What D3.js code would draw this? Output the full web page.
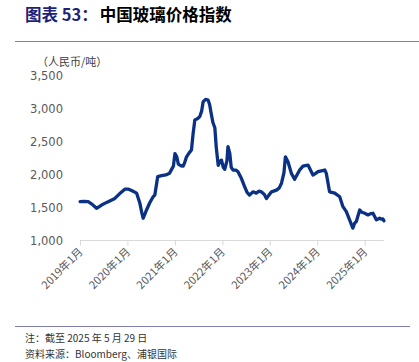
<!DOCTYPE html>
<html><head><meta charset="utf-8">
<script src="https://cdn.jsdelivr.net/npm/d3@7"></script>
<style>
html,body{margin:0;padding:0;background:#fff;}
svg{display:block;}
</style></head>
<body>
<script>
const dates = ["2019-01-02","2019-02-01","2019-03-05","2019-04-05","2019-05-08","2019-06-16","2019-07-10","2019-08-06","2019-09-26","2019-11-01","2019-12-12","2020-01-10","2020-02-02","2020-03-12","2020-04-06","2020-04-20","2020-05-01","2020-05-12","2020-05-27","2020-06-20","2020-07-17","2020-07-30","2020-08-21","2020-09-20","2020-10-23","2020-11-20","2020-12-06","2020-12-20","2021-01-01","2021-01-15","2021-01-27","2021-02-15","2021-03-05","2021-03-18","2021-03-31","2021-04-20","2021-05-08","2021-05-20","2021-06-03","2021-06-25","2021-07-11","2021-07-25","2021-08-06","2021-08-25","2021-09-13","2021-09-25","2021-10-09","2021-10-20","2021-11-04","2021-11-15","2021-11-30","2021-12-12","2021-12-25","2022-01-08","2022-01-19","2022-02-05","2022-02-13","2022-02-27","2022-03-10","2022-03-24","2022-04-15","2022-05-01","2022-05-27","2022-06-21","2022-07-10","2022-07-29","2022-08-24","2022-09-19","2022-10-10","2022-10-28","2022-11-20","2022-12-06","2022-12-25","2023-01-14","2023-02-21","2023-03-15","2023-04-01","2023-04-20","2023-05-01","2023-05-21","2023-06-16","2023-07-11","2023-08-19","2023-09-13","2023-10-22","2023-11-29","2023-12-20","2024-01-07","2024-02-28","2024-03-11","2024-04-05","2024-05-15","2024-06-22","2024-07-17","2024-08-12","2024-09-06","2024-10-01","2024-10-15","2024-10-28","2024-11-23","2024-12-10","2025-01-01","2025-01-26","2025-02-15","2025-03-05","2025-03-31","2025-04-25","2025-05-10","2025-05-20","2025-05-29"];
const values = [1580,1585,1580,1540,1480,1530,1555,1580,1630,1700,1770,1770,1750,1710,1555,1420,1330,1380,1455,1560,1656,1680,1960,1975,1985,2010,2070,2120,2310,2260,2150,2125,2120,2180,2260,2320,2365,2600,2820,2840,2870,2950,3095,3130,3120,3050,2895,2780,2700,2400,2130,2190,2210,2100,2070,2200,2415,2310,2100,2060,2060,2035,1935,1810,1720,1680,1730,1710,1740,1730,1690,1630,1680,1730,1755,1790,1860,2020,2260,2185,2010,1920,2060,2120,2135,1985,2010,2035,2060,2010,1730,1710,1655,1505,1430,1305,1180,1255,1280,1455,1420,1405,1380,1400,1405,1305,1330,1315,1320,1290];
const yTicks = [1000,1500,2000,2500,3000,3500];
const xTickYears = [2019,2020,2021,2022,2023,2024,2025];
const titleA = "图表 53：";
const titleB = "中国玻璃价格指数";
const unitLabel = "（人民币/吨）";
const note1 = "注：截至 2025 年 5 月 29 日";
const note2 = "资料来源：Bloomberg、浦银国际";

const W = 419, H = 362;
const svg = d3.select("body").append("svg").attr("width", W).attr("height", H);
const parse = d3.timeParse("%Y-%m-%d");
const data = dates.map((d,i)=>({date: parse(d), value: values[i]}));

const x = d3.scaleTime().domain([new Date(2019,0,1), parse("2025-05-29")]).range([80, 384]);
const y = d3.scaleLinear().domain([1000, 3500]).range([240, 75]);

// Title
const t = svg.append("text").attr("x", 25).attr("y", 21)
  .attr("font-family", "'Noto Sans CJK SC', sans-serif").attr("font-size", 16.5).attr("font-weight", "bold");
t.append("tspan").attr("fill", "#1f1f78").text(titleA);
t.append("tspan").attr("fill", "#000").attr("dx", 2).text(titleB);

// rules
svg.append("line").attr("x1", 15).attr("x2", 419).attr("y1", 41.5).attr("y2", 41.5).attr("stroke", "#7f7fb0").attr("stroke-width", 1);
svg.append("line").attr("x1", 15).attr("x2", 410).attr("y1", 326.5).attr("y2", 326.5).attr("stroke", "#7f7fb0").attr("stroke-width", 1);

// unit label
svg.append("text").attr("x", 37).attr("y", 66).attr("font-family", "'Noto Sans CJK SC', sans-serif")
  .attr("font-size", 11).attr("fill", "#404040").text(unitLabel);

// y axis labels
svg.append("g").selectAll("text").data(yTicks).join("text")
  .attr("x", 63).attr("y", d => y(d) + 5).attr("text-anchor", "end")
  .attr("font-family", "'DejaVu Sans', sans-serif").attr("font-size", 11.5).attr("fill", "#595959")
  .text(d => d3.format(",")(d));

// x axis
const xAxis = d3.axisBottom(x).tickValues(xTickYears.map(yy => new Date(yy,0,1)))
  .tickSize(5).tickFormat(d => d.getFullYear() + "年1月");
const gx = svg.append("g").attr("transform", "translate(0,240.5)").call(xAxis);
gx.select(".domain").attr("stroke", "#d9d9d9").attr("d", "M80,0H384");
gx.selectAll(".tick line").attr("stroke", "#d9d9d9");
gx.selectAll(".tick text")
  .attr("font-family", "'Noto Sans CJK SC', sans-serif").attr("font-size", 11).attr("fill", "#595959")
  .attr("text-anchor", "end").attr("dy", null).attr("y", 0)
  .attr("transform", "translate(3,12) rotate(-45)");

// line
const line = d3.line().x(d => x(d.date)).y(d => y(d.value)).curve(d3.curveLinear);
svg.append("path").datum(data).attr("d", line).attr("fill", "none")
  .attr("stroke", "#0a3184").attr("stroke-width", 3.3).attr("stroke-linejoin", "round").attr("stroke-linecap", "round");

// notes
svg.append("text").attr("x", 25).attr("y", 342).attr("font-family", "'Noto Sans CJK SC', sans-serif")
  .attr("font-size", 10).attr("fill", "#333").text(note1);
svg.append("text").attr("x", 25).attr("y", 358).attr("font-family", "'Noto Sans CJK SC', sans-serif")
  .attr("font-size", 10).attr("fill", "#333").text(note2);
</script>
</body></html>
